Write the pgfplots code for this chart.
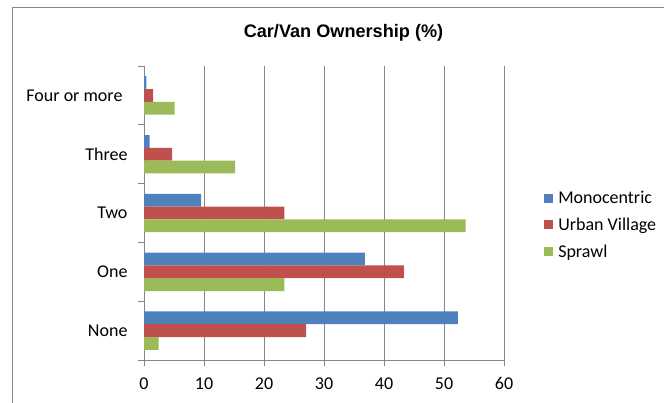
\documentclass[border=0pt]{standalone}
\usepackage{pgfplots}
\pgfplotsset{compat=1.18}
\usepackage{fontspec}
\setmainfont{Carlito}
\newfontfamily\titlefont{Liberation Sans}
\definecolor{mono}{HTML}{4F81BD}
\definecolor{urban}{HTML}{C0504D}
\definecolor{sprawl}{HTML}{9BBB59}
\definecolor{gridgray}{RGB}{134,134,134}
\pgfplotsset{mylegend/.style={legend image code/.code={\draw[##1,/tikz/.cd,draw=none] (0bp,-4.5bp) rectangle (9bp,4.5bp); \path (0bp,0bp) (12bp,0bp);}}}
\begin{document}
\begin{tikzpicture}
\useasboundingbox (0,0) rectangle (664bp,403bp);
\draw[color=gridgray, line width=1bp] (12bp,0) -- (12bp,395bp) -- (664bp,395bp);
\node[font=\titlefont\bfseries\fontsize{18.2}{21}\selectfont] at (343.5bp,370bp) {Car/Van Ownership (\%)};
\begin{axis}[
  at={(144bp,43bp)}, anchor=south west, scale only axis,
  width=360bp, height=294bp,
  xbar, bar width=12.8bp,
  xmin=0, xmax=60, ymin=-0.5, ymax=4.5,
  xtick={0,10,...,60},
  ytick={-0.5,0.5,1.5,2.5,3.5,4.5},
  yticklabels={None,One,Two,Three,{Four or more\hspace*{5bp}}},
  y tick label as interval,
  axis x line*=bottom, axis y line*=left,
  axis line style={-, draw=gridgray, line width=1bp},
  tick style={draw=gridgray, line width=1bp},
  major tick length=6bp, tick align=outside,
  xmajorgrids, grid style={draw=gridgray, line width=1bp},
  /pgf/number format/assume math mode=true,
  tick label style={font=\fontsize{18bp}{21bp}\selectfont},
  xticklabel style={yshift=-8bp},
  yticklabel style={xshift=-7bp},
  legend style={at={(1.103,0.459)}, anchor=west, draw=none, fill=none,
    font=\fontsize{18bp}{21bp}\selectfont, row sep=9bp},
  legend cell align=left,
]
\addplot[fill=mono, draw=none, bar shift=12.8bp, mylegend] coordinates {(52.3,0) (36.8,1) (9.5,2) (0.95,3) (0.4,4)};
\addplot[fill=urban, draw=none, bar shift=0bp, mylegend] coordinates {(27.0,0) (43.3,1) (23.4,2) (4.7,3) (1.5,4)};
\addplot[fill=sprawl, draw=none, bar shift=-12.8bp, mylegend] coordinates {(2.45,0) (23.4,1) (53.6,2) (15.2,3) (5.1,4)};
\legend{Monocentric, Urban Village, Sprawl}
\end{axis}
\end{tikzpicture}
\end{document}
